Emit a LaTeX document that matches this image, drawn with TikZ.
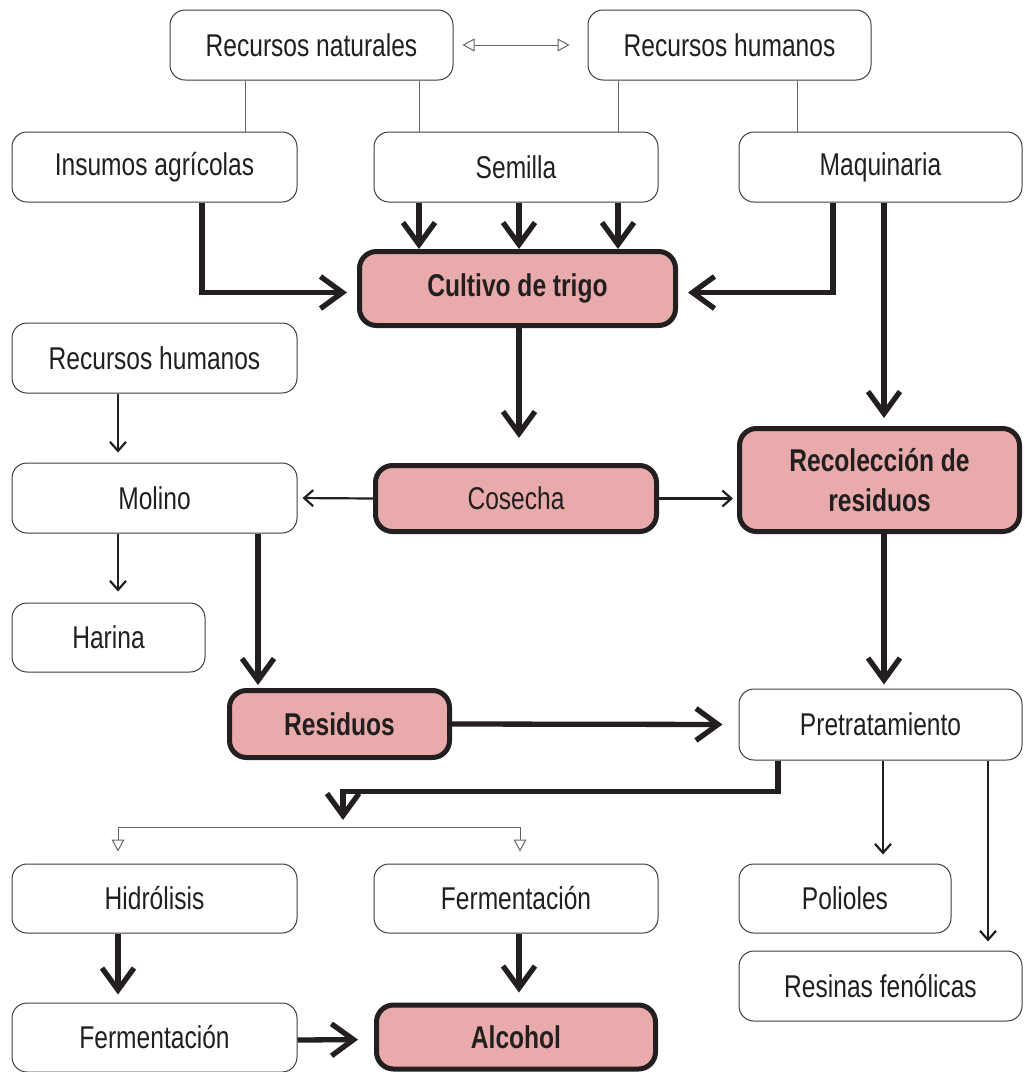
\documentclass[tikz,border=0pt]{standalone}
\usepackage{fontspec}
\setmainfont{Liberation Sans}[FakeStretch=0.78]
\usetikzlibrary{arrows.meta,calc}
\definecolor{ink}{HTML}{231F20}
\definecolor{rose}{HTML}{E8AAAA}
\definecolor{frame}{HTML}{3E3E3E}
\definecolor{wire}{HTML}{666666}
\begin{document}
\begin{tikzpicture}[x=1pt,y=-1pt,
  every node/.style={text=ink, font=\fontsize{31.5}{40}\selectfont, inner sep=0pt, align=center},
  plainbox/.style={draw=frame, line width=1pt, rounded corners=15pt, fill=white},
  keybox/.style={draw=ink, line width=5pt, rounded corners=17pt, fill=rose},
  heavy/.style={draw=ink, line width=5.3pt, -{Straight Barb[length=22pt,width=32pt,line width=5.3pt]}},
  light/.style={draw=ink, line width=2.2pt, -{Straight Barb[length=9pt,width=16pt,line width=2.2pt]}},
  wireline/.style={draw=wire, line width=1pt},
  wirearrow/.style={draw=wire, line width=1pt, -{Triangle[open,length=12pt,width=13pt,line width=1pt]}},
  wiredouble/.style={draw=wire, line width=1pt,
    {Triangle[open,length=12pt,width=13pt,line width=1pt]}-{Triangle[open,length=12pt,width=13pt,line width=1pt]}},
]
\useasboundingbox (0,0) rectangle (1025,1072);

% plain boxes
\node[plainbox, minimum width=283pt, minimum height=70pt] (rn)   at (311.5,45)  {Recursos naturales};
\node[plainbox, minimum width=283pt, minimum height=70pt] (rh)   at (729.5,45)  {Recursos humanos};
\node[plainbox, minimum width=285pt, minimum height=70pt] (ins)  at (154.5,167) {Insumos agrícolas};
\node[plainbox, minimum width=284pt, minimum height=70pt] (sem)  at (516,167)   {Semilla};
\node[plainbox, minimum width=283pt, minimum height=70pt] (maq)  at (880.5,167) {Maquinaria};
\node[plainbox, minimum width=285pt, minimum height=70pt] (rhb)  at (154.5,358) {Recursos humanos};
\node[plainbox, minimum width=285pt, minimum height=70pt] (mol)  at (154.5,498) {Molino};
\node[plainbox, minimum width=193pt, minimum height=69pt] (har)  at (108.5,637.5) {Harina};
\node[plainbox, minimum width=283pt, minimum height=71pt] (pre)  at (880.5,724.5) {Pretratamiento};
\node[plainbox, minimum width=285pt, minimum height=69pt] (hid)  at (154.5,898.5) {Hidrólisis};
\node[plainbox, minimum width=284pt, minimum height=69pt] (fer)  at (516,898.5) {Fermentación};
\node[plainbox, minimum width=212pt, minimum height=69pt] (pol)  at (845,898.5) {Polioles};
\node[plainbox, minimum width=283pt, minimum height=70pt] (rsf)  at (880.5,986) {Resinas fenólicas};
\node[plainbox, minimum width=285pt, minimum height=69pt] (ferb) at (154.5,1037.5) {Fermentación};

% highlighted boxes
\node[keybox, minimum width=316pt, minimum height=74pt] (cul) at (517.5,288.5) {\bfseries Cultivo de trigo};
\node[keybox, minimum width=281pt, minimum height=66pt] (cos) at (516,498.5) {Cosecha};
\node[keybox, minimum width=280pt, minimum height=103pt] (rec) at (879.5,480) {\bfseries Recolección de\\\bfseries residuos};
\node[keybox, minimum width=220pt, minimum height=67pt] (res) at (339.5,724) {\bfseries Residuos};
\node[keybox, minimum width=279pt, minimum height=64pt] (alc) at (516,1037) {\bfseries Alcohol};

% x positions of the vertical connectors
\foreach \xv in {118,202,245,258,343,419,519,520,618,778,797,833,884,883,988}
  \coordinate (x\xv) at (\xv,0);
\coordinate (junc) at (343,827);

% thin grey links from the resources
\draw[wireline] (rn.south -| x245) -- (ins.north -| x245);
\draw[wireline] (rn.south -| x419) -- (sem.north -| x419);
\draw[wireline] (rh.south -| x618) -- (sem.north -| x618);
\draw[wireline] (rh.south -| x797) -- (maq.north -| x797);
\draw[wiredouble, shorten <=9pt, shorten >=18pt] (rn.east) -- (rh.west);

% into the crop
\draw[heavy] (sem.south -| x419) -- (cul.north -| x419);
\draw[heavy] (sem.south -| x519) -- (cul.north -| x519);
\draw[heavy] (sem.south -| x618) -- (cul.north -| x618);
\draw[heavy, shorten >=10pt] (ins.south -| x202) |- ([yshift=-4pt]cul.west);
\draw[heavy, shorten >=10pt] (maq.south -| x833) |- ([yshift=-4pt]cul.east);
\draw[heavy, shorten >=8pt] (maq.south -| x884) -- (rec.north -| x884);

% harvest
\draw[heavy, shorten >=25pt] (cul.south -| x519) -- (cos.north -| x519);
\draw[light, shorten >=5pt] (cos.west) -- (mol.east);
\draw[light, shorten >=4pt] (cos.east) -- (rec.west |- cos.east);
\draw[light, shorten >=10pt] (rhb.south -| x118) -- (mol.north -| x118);
\draw[light, shorten >=11pt] (mol.south -| x118) -- (har.north -| x118);
\draw[heavy, shorten >=3pt] (mol.south -| x258) -- (res.north -| x258);
\draw[heavy, shorten >=16pt] (res.east) -- (pre.west);
\draw[heavy, shorten >=4pt] (rec.south -| x884) -- (pre.north -| x884);

% pretreatment outputs
\draw[heavy] (pre.south -| x778) -- ++(0,31) -| ([yshift=7pt]junc);
\draw[wirearrow, shorten >=12pt] (junc) -| (hid.north -| x118);
\draw[wirearrow, shorten >=12pt] (junc) -| (fer.north -| x520);
\draw[light, shorten >=9pt] (pre.south -| x883) -- (pol.north -| x883);
\draw[light, shorten >=9pt] (pre.south -| x988) -- (rsf.north -| x988);

% to alcohol
\draw[heavy, shorten >=8pt] (hid.south -| x118) -- (ferb.north -| x118);
\draw[heavy, shorten >=10pt] (fer.south -| x519) -- (alc.north -| x519);
\draw[heavy, shorten >=16pt] ([yshift=-2.5pt]ferb.east) -- ([yshift=-2.5pt]alc.west);
\end{tikzpicture}
\end{document}
